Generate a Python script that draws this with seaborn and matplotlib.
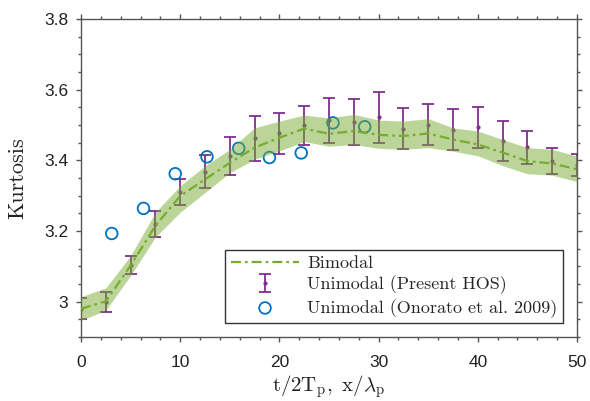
import numpy as np
import pandas as pd
import matplotlib
matplotlib.use("Agg")
import matplotlib.pyplot as plt
import seaborn as sns

# ---- data ----
x_hos = [0, 2.5, 5, 7.5, 10, 12.5, 15, 17.5, 20, 22.5, 25, 27.5, 30, 32.5, 35, 37.5, 40, 42.5, 45, 47.5, 50]
hos_mean = [2.980, 2.999, 3.104, 3.220, 3.311, 3.368, 3.412, 3.462, 3.476, 3.499, 3.513,
            3.508, 3.522, 3.489, 3.501, 3.487, 3.493, 3.454, 3.437, 3.397, 3.387]
hos_err = [0.030, 0.027, 0.026, 0.036, 0.036, 0.047, 0.053, 0.064, 0.057, 0.056, 0.063,
           0.065, 0.072, 0.058, 0.059, 0.059, 0.058, 0.057, 0.047, 0.037, 0.032]

x_bi = [0, 2.5, 5, 7.5, 10, 12.5, 15, 17.5, 20, 22.5, 25, 27.5, 30, 32.5, 35, 37.5, 40, 42.5, 45, 47.5, 50]
bi_mean = [2.980, 3.001, 3.102, 3.215, 3.299, 3.346, 3.393, 3.436, 3.464, 3.490, 3.475,
           3.483, 3.472, 3.469, 3.476, 3.459, 3.445, 3.422, 3.398, 3.391, 3.375]
bi_lower = [2.947, 2.976, 3.074, 3.183, 3.253, 3.309, 3.365, 3.403, 3.427, 3.453, 3.440,
            3.445, 3.434, 3.431, 3.436, 3.426, 3.413, 3.385, 3.362, 3.358, 3.340]
bi_upper = [3.014, 3.039, 3.130, 3.253, 3.328, 3.384, 3.431, 3.492, 3.511, 3.528, 3.520,
            3.530, 3.514, 3.511, 3.518, 3.492, 3.483, 3.459, 3.436, 3.431, 3.412]

x_ono = [3.1, 6.3, 9.5, 12.7, 15.9, 19.0, 22.2, 25.4, 28.6]
y_ono = [3.193, 3.264, 3.362, 3.410, 3.434, 3.408, 3.421, 3.506, 3.495]

x_ticks = [0, 10, 20, 30, 40, 50]
y_ticks = [3.0, 3.2, 3.4, 3.6, 3.8]
y_ticklabels = ["3", "3.2", "3.4", "3.6", "3.8"]
legend_labels = ["Bimodal", "Unimodal (Present HOS)", "Unimodal (Onorato et al. 2009)"]

GREEN = "#77AC30"
PURPLE = "#7E2F8E"
BLUE = "#0072BD"
AXC = "#555555"

sns.set_style("ticks")
plt.rcParams["mathtext.fontset"] = "cm"
plt.rcParams["font.family"] = ["Liberation Sans", "DejaVu Sans"]

fig = plt.figure(figsize=(5.9, 4.01), dpi=100)
ax = fig.add_axes([81 / 590, 1 - 337 / 401, 496 / 590, 318 / 401])

df_bi = pd.DataFrame({"x": x_bi, "y": bi_mean})
df_ono = pd.DataFrame({"x": x_ono, "y": y_ono})

# errorbars (drawn first, band overlays them)
ax.errorbar(x_hos, hos_mean, yerr=hos_err, fmt=".", color=PURPLE, ms=4,
            elinewidth=1.3, capsize=4.6, capthick=1.3, zorder=2,
            label=legend_labels[1])
sns.scatterplot(data=df_ono, x="x", y="y", ax=ax, s=70, facecolor="none",
                edgecolor=BLUE, linewidth=1.3, zorder=2.5, label=legend_labels[2])
ax.fill_between(x_bi, bi_lower, bi_upper, color=GREEN, alpha=0.5, lw=0, zorder=3)
sns.lineplot(data=df_bi, x="x", y="y", ax=ax, color=GREEN, lw=1.6,
             dashes=False, zorder=4, label=legend_labels[0])
ax.lines[-1].set_dashes([4.5, 1.8, 1.2, 1.8])

ax.set_xlim(0, 50)
ax.set_ylim(2.9, 3.8)
ax.set_xticks(x_ticks)
ax.set_yticks(y_ticks)
ax.set_yticklabels(y_ticklabels)
ax.set_xticks(np.arange(0, 50.1, 2), minor=True)
ax.set_yticks(np.arange(2.9, 3.801, 0.05), minor=True)

for s in ax.spines.values():
    s.set_visible(True)
    s.set_color(AXC)
    s.set_linewidth(1.0)
ax.tick_params(which="both", direction="out", colors=AXC, top=True, right=True,
               labelcolor="#222222", labelsize=12.5, width=1.0)
ax.tick_params(which="major", length=3.6)
ax.tick_params(which="minor", length=2.2)
ax.tick_params(axis="x", which="major", pad=9.5)
ax.tick_params(axis="y", which="major", pad=5.5)

ax.set_ylabel("Kurtosis", fontsize=16, color="#222222", family="cmr10")
ax.yaxis.set_label_coords(-0.108, 0.5)
ax.set_xlabel(r"$\mathrm{t/2T_p,\ x/\lambda_p}$", fontsize=15, color="#222222")
ax.xaxis.set_label_coords(0.5, -0.115)

h, l = ax.get_legend_handles_labels()
order = [l.index(t) for t in legend_labels]
leg = ax.legend([h[i] for i in order], [l[i] for i in order], loc="lower right",
                bbox_to_anchor=(0.972, 0.044), borderaxespad=0, frameon=True,
                fancybox=False, edgecolor="#333333", framealpha=1,
                prop={"family": "cmr10", "size": 13}, handlelength=3.8,
                handletextpad=0.45, labelspacing=0.25, borderpad=0.3)
leg.get_frame().set_linewidth(1.0)

fig.savefig("out.png", dpi=100)
